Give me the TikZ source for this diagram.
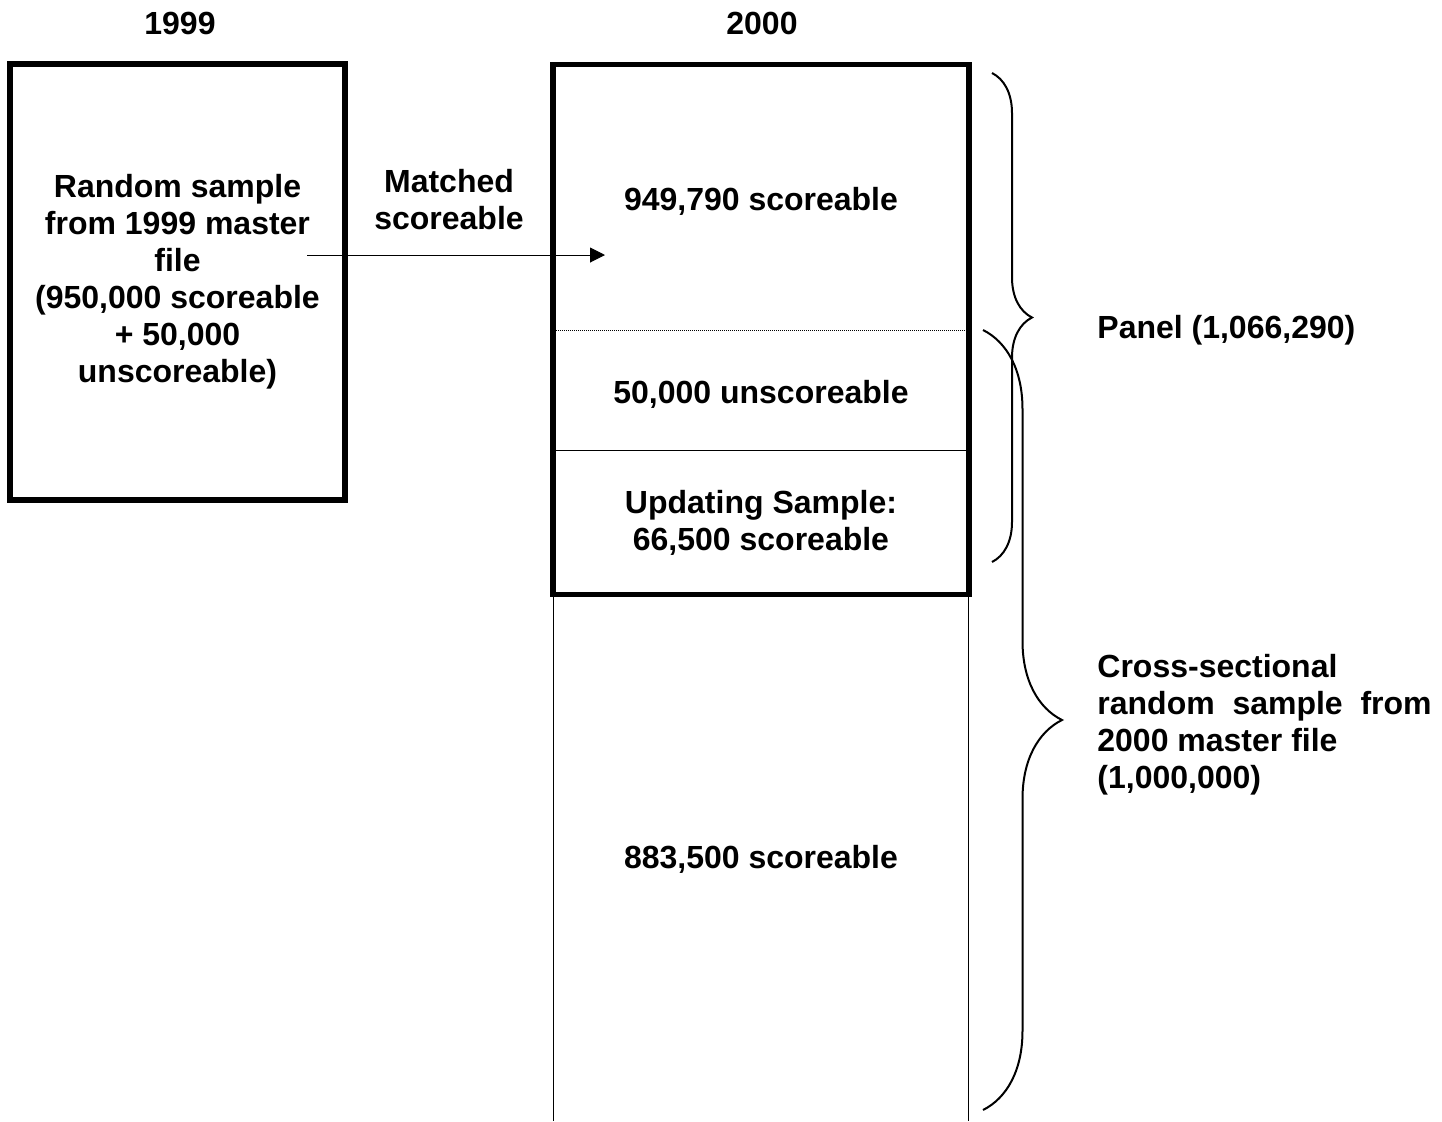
\documentclass[tikz,border=0pt]{standalone}
\usepackage{fontspec}
\setmainfont{Liberation Sans}
\usetikzlibrary{arrows.meta,decorations.pathreplacing}

\begin{document}
\begin{tikzpicture}[line cap=butt,>={Triangle[length=7.5pt,width=7.5pt]},x=0.5pt,y=-0.5pt,
  every node/.style={font=\bfseries\fontsize{16}{18.5}\selectfont,inner sep=0pt},
  thickbox/.style={line width=2.6pt,line join=miter},
  curly/.style={decorate,decoration={brace,amplitude=#1},line width=1pt}]

\useasboundingbox (0,0) rectangle (1442,1121);

\draw (180,23) node (y99) {1999};
\draw (762,23) node (y00) {2000};

% 1999 sample
\node[draw,thickbox,minimum width=167.5pt,minimum height=218pt,align=center] (old) at (177.5,282) {Random sample\\from 1999 master\\file\\(950,000 scoreable\\+ 50,000\\unscoreable)};

% 2000 sample
\draw[thickbox] (553,64.5) rectangle (969,594.5);
\draw[line width=0.5pt,dash pattern=on 0.5pt off 0.5pt] (556,330)-- (966,330);
\draw[line width=0.5pt] (556,450)-- (966,450);
\draw[line width=0.5pt] (553,596)-- (553,1121);
\draw[line width=0.5pt] (968,596)-- (968,1121);

\draw (761,201) node (panel) {949,790 scoreable};
\draw (761,394) node (unsc) {50,000 unscoreable};
\draw (761,523) node[align=center] (upd) {Updating Sample:\\66,500 scoreable};
\draw (761,859) node (cross) {883,500 scoreable};

% matched arrow
\draw (449,200) node[align=center] (match) {Matched\\scoreable};
\coordinate (mS) at (307,255);
\coordinate (mE) at (605,255);
\draw[->,line width=0.5pt] (mS)-- (mE);

% braces
\coordinate (pTop) at (992,73);
\coordinate (pBot) at (992,562);
\coordinate (cTop) at (983,330);
\coordinate (cBot) at (983,1110);
\draw[curly=20pt] (pTop)-- (pBot);
\draw[curly=39.5pt] (cTop)-- (cBot);

\draw (1097,330) node[anchor=west] (plab) {Panel (1,066,290)};
\draw (1097,725) node[anchor=west,align=left] (clab) {Cross-sectional\\random\ \ sample\ \ from\\2000 master file\\(1,000,000)};

\end{tikzpicture}
\end{document}
